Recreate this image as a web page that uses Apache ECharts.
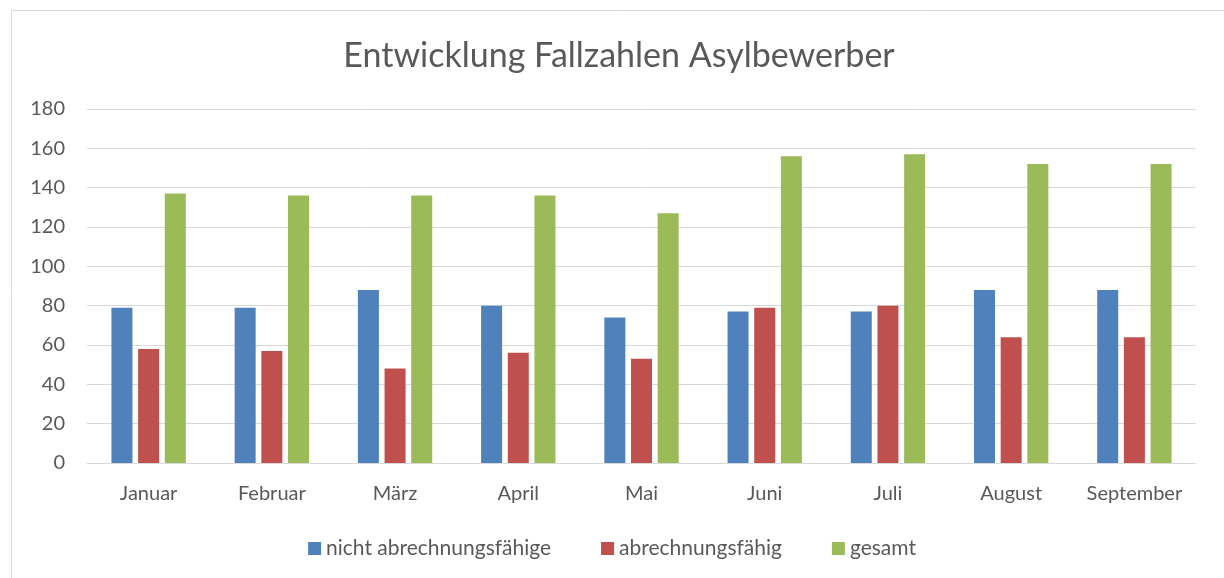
<!DOCTYPE html>
<html><head><meta charset="utf-8">
<script src="https://cdn.jsdelivr.net/npm/echarts@6/dist/echarts.min.js"></script>
<style>html,body{margin:0;padding:0;background:#fff}#c{width:1224px;height:578px}</style>
</head><body><div id="c"></div>
<script>
const categories = ['Januar','Februar','März','April','Mai','Juni','Juli','August','September'];
const nichtAbrechnungsfaehige = [79, 79, 88, 80, 74, 77, 77, 88, 88];
const abrechnungsfaehig = [58, 57, 48, 56, 53, 79, 80, 64, 64];
const gesamt = [137, 136, 136, 136, 127, 156, 157, 152, 152];
const seriesNames = ['nicht abrechnungsfähige', 'abrechnungsfähig', 'gesamt'];
const colors = ['#4F81BD', '#C0504D', '#9BBB59'];
const F = 'Lato, "Open Sans", sans-serif';

const chart = echarts.init(document.getElementById('c'), null, {renderer: 'canvas'});
const datas = [nichtAbrechnungsfaehige, abrechnungsfaehig, gesamt];
chart.setOption({
  animation: false,
  color: colors,
  graphic: [{type: 'rect', shape: {x: 11.5, y: 10.5, width: 1240, height: 600}, style: {fill: 'none', stroke: '#d9d9d9', lineWidth: 1}, silent: true}],
  title: {text: 'Entwicklung Fallzahlen Asylbewerber', left: 614, textAlign: 'center', top: 34,
    textStyle: {fontFamily: F, fontSize: 34, fontWeight: 'normal', color: '#595959'}},
  legend: {bottom: 14, left: 'center', itemWidth: 13, itemHeight: 13, itemGap: 50, icon: 'rect',
    textStyle: {fontFamily: F, fontSize: 21, color: '#595959'}},
  grid: {left: 87, right: 28, top: 109, bottom: 115},
  xAxis: {type: 'category', data: categories,
    axisLine: {lineStyle: {color: '#d9d9d9', width: 1}}, axisTick: {show: false},
    axisLabel: {fontFamily: F, fontSize: 20, color: '#595959', margin: 21, interval: 0}},
  yAxis: {type: 'value', min: 0, max: 180, interval: 20,
    axisLine: {show: false}, axisTick: {show: false},
    splitLine: {lineStyle: {color: '#d9d9d9', width: 1}},
    axisLabel: {fontFamily: F, fontSize: 20, color: '#595959', margin: 22}},
  series: datas.map((d, i) => ({name: seriesNames[i], type: 'bar', data: d,
    barWidth: 21, barGap: '27%', barCategoryGap: '39%'}))
});
</script></body></html>
